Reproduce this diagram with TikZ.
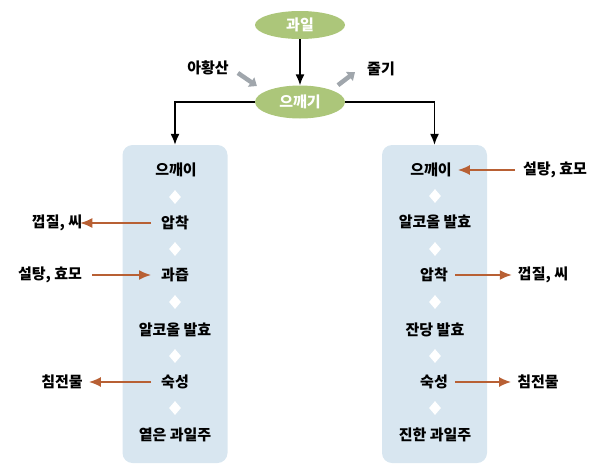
\documentclass[tikz,border=0pt]{standalone}
\usepackage{fontspec}
\setmainfont{Noto Sans CJK KR}
\usetikzlibrary{arrows.meta,shapes.geometric}

\definecolor{leafgreen}{RGB}{172,198,122}
\definecolor{boxblue}{RGB}{216,230,240}
\definecolor{rust}{RGB}{184,96,52}
\definecolor{ashgray}{RGB}{160,166,172}

\tikzset{
  step text/.style={font=\bfseries\fontsize{15}{18}\selectfont, inner sep=2pt},
  oval/.style={ellipse, fill=leafgreen, text=white, font=\bfseries\fontsize{15}{18}\selectfont, minimum width=90, minimum height=28, inner sep=0pt},
  panel/.style={fill=boxblue, rounded corners=10pt, minimum width=105, minimum height=318, inner sep=0pt},
  sepmark/.style={diamond, fill=white, minimum width=12, minimum height=14, inner sep=0pt},
  side/.style={draw=rust, line width=1.6pt, -{Latex[length=12pt,width=10pt]}},
  drop/.style={draw=black, line width=1.4pt, -{Latex[length=11pt,width=9pt]}},
  gray/.style={draw=ashgray, line width=4.5pt, -{Triangle[length=7pt,width=11pt]}}
}

\begin{document}
\begin{tikzpicture}[x=1pt,y=-1pt]
        \useasboundingbox (0,0) rectangle (600,472);

        % 상자
        \node[panel] (lbox) at (175,304) {};
        \node[panel] (rbox) at (434.5,304) {};

        % 과일, 으깨기
        \node[oval] (fruit) at (300,25) {과일};
        \node[oval, minimum height=33] (mash) at (300,102) {으깨기};
        \draw[drop] (fruit) -- (mash);
        \draw[drop] (mash.west) -| (lbox.north);
        \draw[drop] (mash.east) -| (rbox.north);

        \node[step text] (so2) at (208,68) {아황산};
        \node[step text] (stem) at (381,69) {줄기};
        \draw[gray] (so2.east) ++(7,5) coordinate (g1) -- ++(19,13);
        \draw[gray] (mash.north east) ++(6,-5) coordinate (g2) -- ++(17,-13);

        % 왼쪽: 옅은 과일주
        \node[step text] (l1) at (176,170) {으깨이};
        \node[step text] (l2) at (175,223) {압착};
        \node[step text] (l3) at (175,275) {과즙};
        \node[step text] (l4) at (175,330) {알코올 발효};
        \node[step text] (l5) at (175,382) {숙성};
        \node[step text] (l6) at (175,435) {옅은 과일주};

        \node[sepmark] at (175,197) {};
        \node[sepmark] at (175,249) {};
        \node[sepmark] at (175,302) {};
        \node[sepmark] at (175,356) {};
        \node[sepmark] at (175,408) {};

        \node[step text] (lpeel) at (57,223) {껍질, 씨};
        \node[step text] (lsugar) at (50,275) {설탕, 효모};
        \node[step text] (llees) at (62,382) {침전물};
        \draw[side] (l2.west) ++(-8,0) coordinate (a1) -- ([xshift=-4pt]lpeel.east);
        \draw[side] (lsugar.east) ++(8,0) -- ([xshift=-8pt]l3.west);
        \draw[side] (l5.west) ++(-8,0) -- ([xshift=4pt]llees.east);

        % 오른쪽: 진한 과일주
        \node[step text] (r1) at (431,170) {으깨이};
        \node[step text] (r2) at (435,222) {알코올 발효};
        \node[step text] (r3) at (434,275) {압착};
        \node[step text] (r4) at (435,330) {잔당 발효};
        \node[step text] (r5) at (434,382) {숙성};
        \node[step text] (r6) at (435,435) {진한 과일주};

        \node[sepmark] at (435,196) {};
        \node[sepmark] at (435,249) {};
        \node[sepmark] at (435,302) {};
        \node[sepmark] at (435,356) {};
        \node[sepmark] at (435,408) {};

        \node[step text] (rsugar) at (555,170) {설탕, 효모};
        \node[step text] (rpeel) at (543,275) {껍질, 씨};
        \node[step text] (rlees) at (538,382) {침전물};
        \draw[side] (rsugar.west) ++(-6,0) -- ([xshift=4pt]r1.east);
        \draw[side] (r3.east) ++(5,0) -- ([xshift=-4pt]rpeel.west);
        \draw[side] (r5.east) ++(5,0) -- ([xshift=-4pt]rlees.west);
    \end{tikzpicture}
\end{document}
